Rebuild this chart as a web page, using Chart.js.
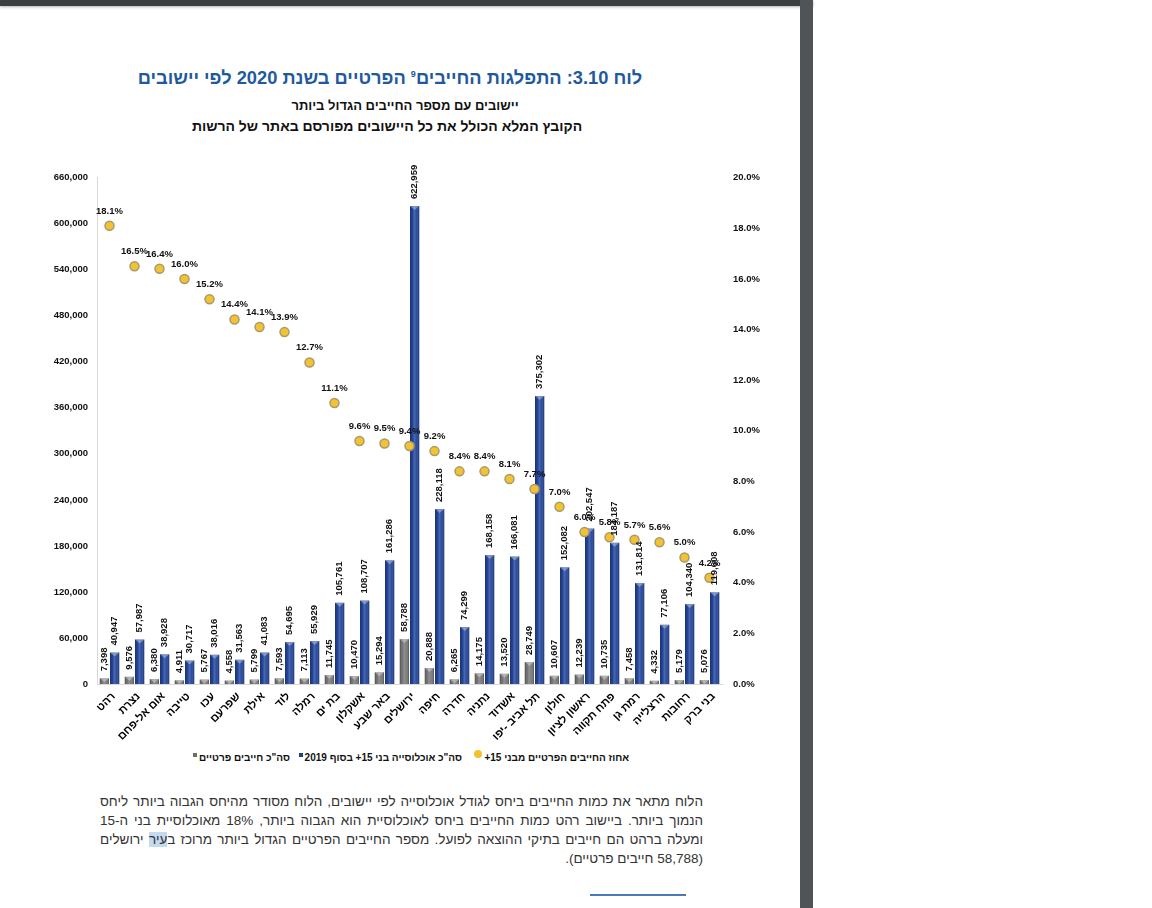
<!DOCTYPE html>
<html lang="he">
<head>
<meta charset="utf-8">
<title>התפלגות החייבים הפרטיים לפי יישובים</title>
<script src="https://cdn.jsdelivr.net/npm/chart.js@4.4.1/dist/chart.umd.min.js"></script>
<style>
    body {
        margin: 0;
        width: 1152px;
        height: 908px;
        overflow: hidden;
        position: relative;
        background: #fff;
        font-family: "Liberation Sans", Arial, sans-serif;
    }
    #topbar { position: absolute; left: 0; top: 0; width: 813px; height: 6px; background: #3b3e42; box-shadow: 0 1px 3px rgba(0,0,0,0.3); }
    #sidebar { position: absolute; left: 800px; top: 0; width: 13px; height: 908px; background: #505357; }
    .head { position: absolute; width: 600px; text-align: center; direction: rtl; font-weight: bold; }
    #title { left: 90px; top: 67px; font-size: 18.3px; color: #1f5a9e; }
    #title sup { font-size: 9px; }
    #sub1 { left: 105px; top: 98px; font-size: 13px; color: #111; }
    #sub2 { left: 87px; top: 118px; font-size: 14px; color: #111; }
    #chartBox { position: absolute; left: 40px; top: 161px; width: 740px; height: 589px; }
    .leg { position: absolute; top: 752px; direction: rtl; font-size: 10px; font-weight: bold; color: #111; white-space: nowrap; }
    .leg .mk { display: inline-block; vertical-align: top; margin-right: 2px; }
    .leg .dot { width: 8px; height: 8px; border-radius: 50%; background: #f2c230; margin-top: -2px; }
    .leg .sq { width: 4px; height: 4px; margin-top: 1px; }
    #note {
        position: absolute; left: 100px; top: 792px; width: 603px;
        direction: rtl; font-size: 13.5px; line-height: 19px; color: #333;
    }
    #note div { white-space: nowrap; text-align: justify; text-align-last: justify; }
    #note div.last { text-align-last: right; }
    #note .sel { background: #c5d9f1; }
    #fnline { position: absolute; left: 590px; top: 894px; width: 96px; height: 2px; background: #4a7ab5; }
</style>
</head>
<body>
<div id="topbar"></div>
<div id="sidebar"></div>

<div class="head" id="title">לוח 3.10: התפלגות החייבים<sup>9</sup> הפרטיים בשנת 2020 לפי יישובים</div>
<div class="head" id="sub1">יישובים עם מספר החייבים הגדול ביותר</div>
<div class="head" id="sub2">הקובץ המלא הכולל את כל היישובים מפורסם באתר של הרשות</div>

<div id="chartBox"><canvas id="debtChart"></canvas></div>

<div class="leg" style="right:calc(1152px - 629px)">אחוז החייבים הפרטיים מבני 15+<span class="mk dot"></span></div>
<div class="leg" style="right:calc(1152px - 462px)">סה"כ אוכלוסייה בני 15+ בסוף 2019<span class="mk sq" style="background:#1f3f8f"></span></div>
<div class="leg" style="right:calc(1152px - 290px)">סה"כ חייבים פרטיים<span class="mk sq" style="background:#6d6d6d"></span></div>

<div id="note">
    <div>הלוח מתאר את כמות החייבים ביחס לגודל אוכלוסייה לפי יישובים, הלוח מסודר מהיחס הגבוה ביותר ליחס</div>
    <div>הנמוך ביותר. ביישוב רהט כמות החייבים ביחס לאוכלוסיית הוא הגבוה ביותר, 18% מאוכלוסיית בני ה-15</div>
    <div>ומעלה ברהט הם חייבים בתיקי ההוצאה לפועל. מספר החייבים הפרטיים הגדול ביותר מרוכז ב<span class="sel">עיר</span> ירושלים</div>
    <div class="last">(58,788 חייבים פרטיים).</div>
</div>
<div id="fnline"></div>

<script>
// Settlements, sorted by debtor share
const towns = ['רהט', 'נצרת', 'אום אל-פחם', 'טייבה', 'עכו', 'שפרעם', 'אילת', 'לוד', 'רמלה', 'בת ים',
    'אשקלון', 'באר שבע', 'ירושלים', 'חיפה', 'חדרה', 'נתניה', 'אשדוד', 'תל אביב -יפו', 'חולון',
    'ראשון לציון', 'פתח תקווה', 'רמת גן', 'הרצלייה', 'רחובות', 'בני ברק'];

// Total private debtors
const debtors = [7398, 9576, 6380, 4911, 5767, 4558, 5799, 7593, 7113, 11745,
    10470, 15294, 58788, 20888, 6265, 14175, 13520, 28749, 10607,
    12239, 10735, 7458, 4332, 5179, 5076];

// Population aged 15+ at end of 2019
const population = [40947, 57987, 38928, 30717, 38016, 31563, 41083, 54695, 55929, 105761,
    108707, 161286, 622959, 228118, 74299, 168158, 166081, 375302, 152082,
    202547, 184187, 131814, 77106, 104340, 119608];

// Debtors as % of population 15+
const sharePct = [18.1, 16.5, 16.4, 16.0, 15.2, 14.4, 14.1, 13.9, 12.7, 11.1,
    9.6, 9.5, 9.4, 9.2, 8.4, 8.4, 8.1, 7.7, 7.0,
    6.0, 5.8, 5.7, 5.6, 5.0, 4.2];

// Axis ticks
const leftMax = 660000, leftStep = 60000;
const rightMax = 20, rightStep = 2;

const labelFont = 'bold 9.5px "Liberation Sans", Arial, sans-serif';
const fmt = n => n.toLocaleString('en-US');

// gives the bars a rounded, shaded look
const barShade = {
    id: 'barShade',
    afterDatasetDraw(chart, args) {
        const meta = args.meta;
        if (meta.type !== 'bar') return;
        const ctx = chart.ctx;
        ctx.save();
        meta.data.forEach(el => {
            const p = el.getProps(['x', 'y', 'base', 'width'], true);
            const x0 = p.x - p.width / 2;
            const g = ctx.createLinearGradient(x0, 0, x0 + p.width, 0);
            g.addColorStop(0, 'rgba(0,0,0,0.3)');
            g.addColorStop(0.2, 'rgba(0,0,0,0.05)');
            g.addColorStop(0.45, 'rgba(255,255,255,0.2)');
            g.addColorStop(0.7, 'rgba(255,255,255,0.05)');
            g.addColorStop(1, 'rgba(0,0,0,0.35)');
            ctx.fillStyle = g;
            ctx.fillRect(x0, p.y, p.width, p.base - p.y);
            // top bevel
            ctx.fillStyle = 'rgba(255,255,255,0.35)';
            ctx.beginPath();
            ctx.moveTo(x0, p.y);
            ctx.lineTo(x0 + p.width, p.y);
            ctx.lineTo(p.x, p.y + Math.min(4, p.base - p.y));
            ctx.closePath();
            ctx.fill();
        });
        ctx.restore();
    }
};

// value labels: vertical over bars, horizontal over points
const valueLabels = {
    id: 'valueLabels',
    afterDatasetsDraw(chart) {
        const ctx = chart.ctx;
        ctx.save();
        ctx.font = labelFont;
        ctx.fillStyle = '#111';
        chart.data.datasets.forEach((ds, i) => {
            const meta = chart.getDatasetMeta(i);
            meta.data.forEach((el, j) => {
                const v = ds.data[j];
                if (meta.type === 'bar') {
                    ctx.save();
                    ctx.translate(el.x, el.y - 7);
                    ctx.rotate(-Math.PI / 2);
                    ctx.textAlign = 'left';
                    ctx.textBaseline = 'middle';
                    ctx.fillText(fmt(v), 0, 0);
                    ctx.restore();
                } else {
                    ctx.textAlign = 'center';
                    ctx.textBaseline = 'bottom';
                    ctx.fillText(v.toFixed(1) + '%', el.x, el.y - 10);
                }
            });
        });
        ctx.restore();
    }
};

const tickFont = { family: '"Liberation Sans", Arial, sans-serif', size: 9.5, weight: 'bold' };

new Chart(document.getElementById('debtChart'), {
    data: {
        labels: towns,
        datasets: [
            {
                type: 'line',
                label: 'אחוז החייבים הפרטיים מבני 15+',
                data: sharePct,
                yAxisID: 'y1',
                showLine: false,
                pointRadius: 4.5,
                pointBackgroundColor: '#f2c230',
                pointBorderColor: '#a79a72',
                pointBorderWidth: 1.5,
                order: 0
            },
            {
                type: 'bar',
                label: 'סה"כ חייבים פרטיים',
                data: debtors,
                yAxisID: 'y',
                backgroundColor: '#777777',
                barPercentage: 0.9,
                categoryPercentage: 0.82,
                order: 1
            },
            {
                type: 'bar',
                label: 'סה"כ אוכלוסייה בני 15+ בסוף 2019',
                data: population,
                yAxisID: 'y',
                backgroundColor: '#21449c',
                barPercentage: 0.9,
                categoryPercentage: 0.82,
                order: 2
            }
        ]
    },
    options: {
        responsive: true,
        maintainAspectRatio: false,
        animation: false,
        layout: { padding: { top: 8 } },
        plugins: {
            legend: { display: false },
            tooltip: { enabled: false }
        },
        scales: {
            x: {
                grid: { display: false, drawTicks: false },
                border: { color: '#d9d9d9' },
                ticks: {
                    autoSkip: false, minRotation: 45, maxRotation: 45, padding: 6, labelOffset: 4,
                    color: '#000',
                    font: { family: '"Liberation Sans", Arial, sans-serif', size: 11, weight: 'bold' }
                },
                afterFit: s => { s.height = 66; }
            },
            y: {
                position: 'left',
                min: 0, max: leftMax,
                grid: { display: false, drawTicks: false },
                border: { color: '#d9d9d9' },
                ticks: { stepSize: leftStep, padding: 9, color: '#111', font: tickFont, callback: v => fmt(v) },
                afterFit: s => { s.width = 57; }
            },
            y1: {
                position: 'right',
                min: 0, max: rightMax,
                grid: { display: false, drawTicks: false },
                border: { display: false },
                ticks: { stepSize: rightStep, padding: 11, color: '#111', font: tickFont, callback: v => v.toFixed(1) + '%' },
                afterFit: s => { s.width = 58; }
            }
        }
    },
    plugins: [barShade, valueLabels]
});
</script>
</body>
</html>
